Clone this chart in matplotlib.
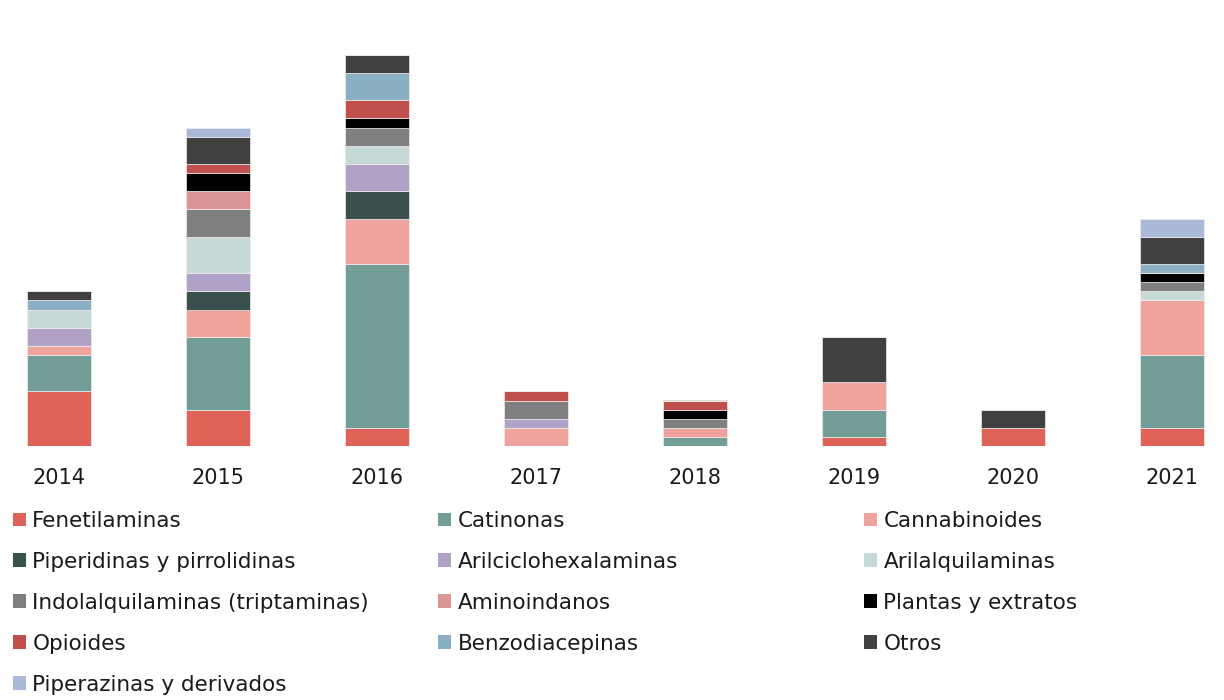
import numpy as np
import matplotlib
matplotlib.use("Agg")
import matplotlib.pyplot as plt
from matplotlib.patches import Patch

# datos por año (número de sustancias por grupo)
years = ["2014", "2015", "2016", "2017", "2018", "2019", "2020", "2021"]
grupos = ["Fenetilaminas", "Catinonas", "Cannabinoides",
          "Piperidinas y pirrolidinas", "Arilciclohexalaminas", "Arilalquilaminas",
          "Indolalquilaminas (triptaminas)", "Aminoindanos", "Plantas y extratos",
          "Opioides", "Benzodiacepinas", "Otros", "Piperazinas y derivados"]

fenetilaminas = [6, 4, 2, 0, 0, 1, 2, 2]
catinonas     = [4, 8, 18, 0, 1, 3, 0, 8]
cannabinoides = [1, 3, 5, 2, 1, 3, 0, 6]
piperidinas   = [0, 2, 3, 0, 0, 0, 0, 0]
arilciclohex  = [2, 2, 3, 1, 0, 0, 0, 0]
arilalquil    = [2, 4, 2, 0, 0, 0, 0, 1]
indolalquil   = [0, 3, 2, 2, 1, 0, 0, 1]
aminoindanos  = [0, 2, 0, 0, 0, 0, 0, 0]
plantas       = [0, 2, 1, 0, 1, 0, 0, 1]
opioides      = [0, 1, 2, 1, 1, 0, 0, 0]
benzodiacep   = [1, 0, 3, 0, 0, 0, 0, 1]
otros         = [1, 3, 2, 0, 0, 5, 2, 3]
piperazinas   = [0, 1, 0, 0, 0, 0, 0, 2]

series = [fenetilaminas, catinonas, cannabinoides, piperidinas, arilciclohex,
          arilalquil, indolalquil, aminoindanos, plantas, opioides, benzodiacep,
          otros, piperazinas]
colores = ["#E0635A", "#729E97", "#EFA39D", "#3A504C", "#B2A1C7", "#C7D9D6",
           "#7F7F7F", "#D99694", "#000000", "#C0504D", "#8BB0C4", "#404040",
           "#A9B9D7"]

plt.rcParams['font.family'] = ['DejaVu Sans']

fig = plt.figure(figsize=(12.24, 7), dpi=100)
W, H = 1224, 700
base_px = 446
top_px = 20
unit_px = 9.1
ax = fig.add_axes([0, (H - base_px) / H, 1, (base_px - top_px) / H])

x = np.arange(len(years))
bottom = np.zeros(len(years))
for vals, c in zip(series, colores):
    vals = np.array(vals, dtype=float)
    ax.bar(x, vals, width=0.40, bottom=bottom, color=c,
           edgecolor="#eeeeee", linewidth=0.5)
    bottom += vals

ax.set_xlim(-59 / 159, (W - 59) / 159)
ax.set_ylim(0, (base_px - top_px) / unit_px)
for s in ax.spines.values():
    s.set_visible(False)
ax.set_yticks([])
ax.set_xticks(x)
ax.set_xticklabels(years, fontsize=15, color="#1a1a1a")
ax.tick_params(axis="x", length=0, pad=16)

# leyenda en 3 columnas (orden por filas)
handles = [Patch(facecolor=c, edgecolor="none") for c in colores]
col_x = [13, 438, 864]
for ci in range(3):
    idx = list(range(ci, len(grupos), 3))
    leg = fig.legend([handles[i] for i in idx], [grupos[i] for i in idx],
                     loc="upper left", bbox_to_anchor=(col_x[ci] / W, (H - 511) / H),
                     frameon=False, fontsize=15.5, handlelength=0.6, handleheight=0.6,
                     handletextpad=0.3, labelspacing=0.97, borderpad=0,
                     borderaxespad=0)
    for t in leg.get_texts():
        t.set_color("#1a1a1a")

fig.savefig("out.png", dpi=100)
